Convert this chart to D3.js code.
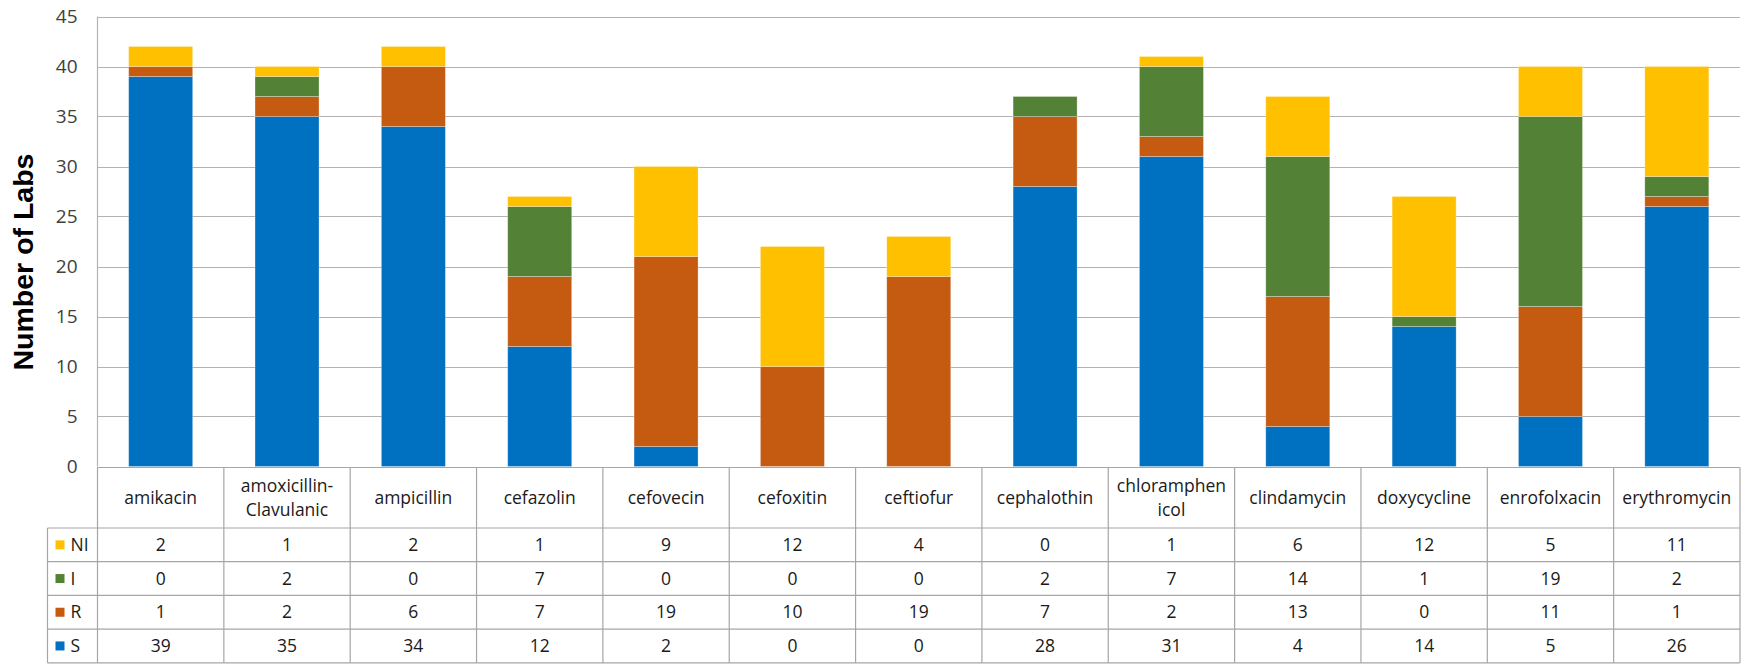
<!DOCTYPE html>
<html>
<head>
<meta charset="utf-8">
<script src="https://cdn.jsdelivr.net/npm/d3@7"></script>
<style>
  body { margin: 0; background: #fff; }
  svg { display: block; font-family: "Open Sans", "Noto Sans", sans-serif; }
</style>
</head>
<body>
<svg id="chart" width="1758" height="667"></svg>
<script>
// drug names as shown in the table header ("\n" = line break in the cell)
const categories = [
  'amikacin', 'amoxicillin-\nClavulanic', 'ampicillin', 'cefazolin', 'cefovecin',
  'cefoxitin', 'ceftiofur', 'cephalothin', 'chloramphen\nicol', 'clindamycin',
  'doxycycline', 'enrofolxacin', 'erythromycin'
];

const sValues  = [39, 35, 34, 12, 2, 0, 0, 28, 31, 4, 14, 5, 26];
const rValues  = [1, 2, 6, 7, 19, 10, 19, 7, 2, 13, 0, 11, 1];
const iValues  = [0, 2, 0, 7, 0, 0, 0, 2, 7, 14, 1, 19, 2];
const niValues = [2, 1, 2, 1, 9, 12, 4, 0, 1, 6, 12, 5, 11];

const seriesNames = ['S', 'R', 'I', 'NI'];
const seriesColors = ['#0070c0', '#c55a11', '#538135', '#ffc000'];
const yTicks = [0, 5, 10, 15, 20, 25, 30, 35, 40, 45];

const svg = d3.select('#chart');
const plotLeft = 97.5, plotRight = 1740, plotTop = 16.5, plotBottom = 466.5;
const legendLeft = 47.5;
const headerH = 60.5, rowH = 33.7;

const rows = categories.map((c, i) => ({
  cat: c, S: sValues[i], R: rValues[i], I: iValues[i], NI: niValues[i]
}));

const x = d3.scaleBand().domain(categories).range([plotLeft, plotRight]).paddingInner(0).paddingOuter(0);
const y = d3.scaleLinear().domain([0, 45]).range([plotBottom, plotTop]);
const color = d3.scaleOrdinal().domain(seriesNames).range(seriesColors);

// gridlines
svg.append('g')
  .selectAll('line')
  .data(yTicks)
  .join('line')
    .attr('x1', plotLeft).attr('x2', plotRight)
    .attr('y1', d => Math.round(y(d)) + 0.5).attr('y2', d => Math.round(y(d)) + 0.5)
    .attr('stroke', '#b3b3b3').attr('stroke-width', 1.2);

// y axis labels
const yAxis = svg.append('g')
  .attr('transform', `translate(${plotLeft},0)`)
  .call(d3.axisLeft(y).tickValues(yTicks).tickSize(0).tickPadding(20));
yAxis.select('.domain').remove();
yAxis.selectAll('text')
  .attr('font-family', '"Open Sans", sans-serif')
  .attr('font-size', 19).attr('fill', '#404040');

svg.append('line')
  .attr('x1', plotLeft).attr('x2', plotLeft).attr('y1', plotTop).attr('y2', plotBottom)
  .attr('stroke', '#b3b3b3').attr('stroke-width', 1.2);

svg.append('text')
  .attr('transform', 'translate(33,262) rotate(-90)')
  .attr('text-anchor', 'middle')
  .attr('font-family', '"Liberation Sans", Arial, sans-serif')
  .attr('font-weight', 'bold').attr('font-size', 28.5)
  .text('Number of Labs');

// stacked bars
const stack = d3.stack().keys(seriesNames)(rows);
const barW = 64;
svg.append('g')
  .selectAll('g')
  .data(stack)
  .join('g')
    .attr('fill', d => color(d.key))
  .selectAll('rect')
  .data(d => d.filter(p => p[1] - p[0] > 0))
  .join('rect')
    .attr('x', d => x(d.data.cat) + x.bandwidth() / 2 - barW / 2)
    .attr('width', barW)
    .attr('y', d => y(d[1]))
    .attr('height', d => y(d[0]) - y(d[1]))
    .attr('stroke', '#ffffff').attr('stroke-opacity', 0.35).attr('stroke-width', 0.8);

// data table
const tbl = svg.append('g').attr('font-size', 17.5).attr('fill', '#1a1a1a');
const tableTop = plotBottom + 1;
const gridCol = '#a6a6a6';
const tableRows = ['NI', 'I', 'R', 'S'];
const rowY = r => tableTop + headerH + tableRows.indexOf(r) * rowH;
const tableBottom = tableTop + headerH + tableRows.length * rowH;

// header cells
categories.forEach(c => {
  const lines = c.split('\n');
  const cx = x(c) + x.bandwidth() / 2;
  const cy = tableTop + headerH / 2;
  const t = tbl.append('text').attr('text-anchor', 'middle');
  lines.forEach((ln, k) => {
    t.append('tspan')
      .attr('x', cx)
      .attr('y', cy + (k - (lines.length - 1) / 2) * 24)
      .attr('dy', '0.35em')
      .text(ln);
  });
});

// value cells
const vals = { NI: niValues, I: iValues, R: rValues, S: sValues };
tableRows.forEach(r => {
  const cy = rowY(r) + rowH / 2;
  tbl.append('rect')
    .attr('x', legendLeft + 8).attr('y', cy - 4.5)
    .attr('width', 9).attr('height', 9)
    .attr('fill', color(r));
  tbl.append('text')
    .attr('x', legendLeft + 23).attr('y', cy).attr('dy', '0.35em')
    .text(r);
  tbl.selectAll(null)
    .data(categories)
    .join('text')
      .attr('x', c => x(c) + x.bandwidth() / 2)
      .attr('y', cy).attr('dy', '0.35em')
      .attr('text-anchor', 'middle')
      .text((c, i) => vals[r][i]);
});

// table lines
const tableLines = svg.append('g').attr('stroke', gridCol).attr('stroke-width', 1.2);
// horizontal
tableLines.append('line').attr('x1', plotLeft).attr('x2', plotRight).attr('y1', tableTop).attr('y2', tableTop);
[0, 1, 2, 3, 4].forEach(k => {
  const yy = tableTop + headerH + k * rowH;
  tableLines.append('line').attr('x1', legendLeft).attr('x2', plotRight).attr('y1', yy).attr('y2', yy);
});
// vertical
tableLines.append('line').attr('x1', legendLeft).attr('x2', legendLeft)
  .attr('y1', tableTop + headerH).attr('y2', tableBottom);
tableLines.selectAll(null)
  .data(categories.map(c => x(c)).concat([plotRight]))
  .join('line')
    .attr('x1', d => d).attr('x2', d => d)
    .attr('y1', tableTop).attr('y2', tableBottom);
</script>
</body>
</html>
